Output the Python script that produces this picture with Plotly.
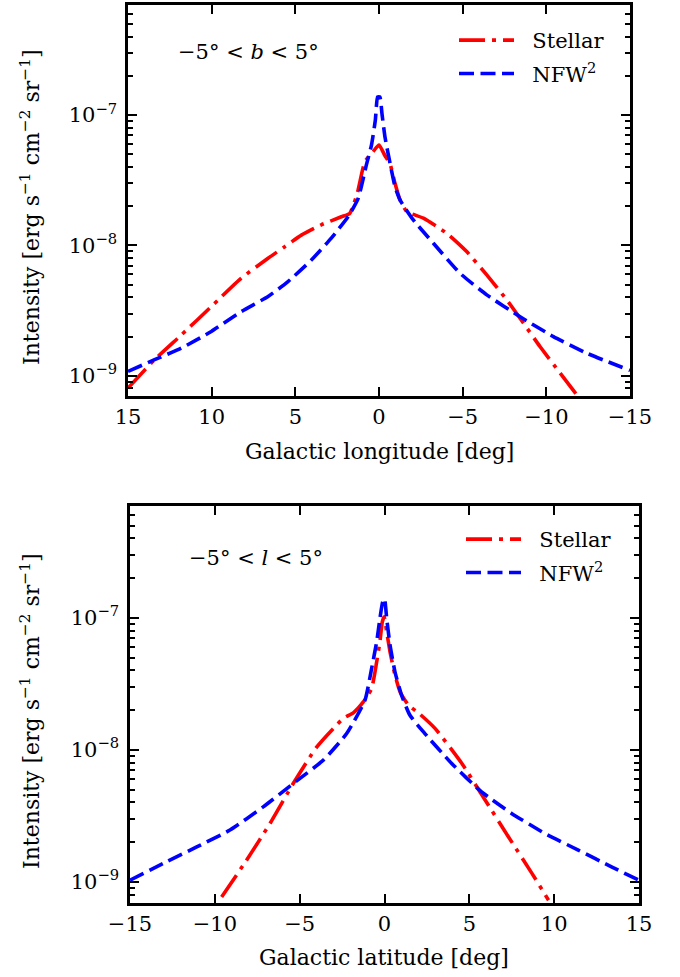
import plotly.graph_objects as go

# ---------------- data ----------------
# Top panel: profile along Galactic longitude (-5 < b < 5)
lon_stellar = [15, 13.41, 11.81, 10.02, 8.23, 6.63, 5.63, 4.64, 3.45, 2.25, 1.75, 1.3,
               0.85, 0.35, 0.0, -0.35, -0.65, -0.95, -1.26, -1.66, -2.65, -4.05,
               -5.24, -6.44, -7.64, -8.63, -9.63, -10.82, -11.9]
I_stellar_lon = [8.05e-10, 1.33e-9, 2.06e-9, 3.40e-9, 5.61e-9, 7.98e-9, 9.79e-9,
                 1.20e-8, 1.44e-8, 1.66e-8, 1.76e-8, 2.51e-8, 4.37e-8, 5.25e-8,
                 5.89e-8, 4.90e-8, 4.27e-8, 3.02e-8, 2.23e-8, 1.82e-8, 1.62e-8,
                 1.24e-8, 8.97e-9, 5.94e-9, 3.82e-9, 2.54e-9, 1.67e-9, 1.05e-9, 6.92e-10]

lon_nfw = [15, 13.41, 11.81, 10.02, 8.23, 6.63, 5.44, 4.04, 2.85, 1.85, 1.25, 0.75,
           0.45, 0.22, 0.08, -0.05, -0.18, -0.36, -0.66, -0.96, -1.26, -2.05, -3.25,
           -4.84, -6.44, -8.43, -10.42, -12.42, -15]
I_nfw_lon = [1.08e-9, 1.33e-9, 1.63e-9, 2.19e-9, 3.11e-9, 4.06e-9, 5.28e-9, 7.74e-9,
             1.14e-8, 1.66e-8, 2.29e-8, 4.17e-8, 5.89e-8, 9.12e-8, 1.38e-7, 1.38e-7,
             1.02e-7, 6.76e-8, 4.27e-8, 2.82e-8, 2.23e-8, 1.57e-8, 1.04e-8, 6.12e-9,
             4.18e-9, 2.84e-9, 2.00e-9, 1.49e-9, 1.10e-9]

# Bottom panel: profile along Galactic latitude (-5 < l < 5)
lat_stellar = [-9.6, -8.13, -6.75, -5.38, -4.0, -2.43, -1.84, -1.25, -0.76, -0.46,
               -0.27, -0.13, -0.02, 0.13, 0.33, 0.62, 0.92, 1.42, 2.1, 2.99, 4.56,
               5.94, 7.31, 8.69, 9.67]
I_stellar_lat = [7.69e-10, 1.46e-9, 2.77e-9, 5.56e-9, 1.05e-8, 1.73e-8, 1.91e-8,
                 2.31e-8, 2.92e-8, 4.65e-8, 6.61e-8, 9.33e-8, 1.02e-7, 7.83e-8,
                 5.50e-8, 3.68e-8, 2.75e-8, 2.18e-8, 1.86e-8, 1.45e-8, 7.89e-9,
                 4.16e-9, 2.19e-9, 1.16e-9, 7.26e-10]

lat_nfw = [-15, -13.04, -11.07, -9.11, -7.15, -5.38, -3.61, -2.23, -1.15, -0.76,
           -0.46, -0.27, -0.11, 0.0, 0.13, 0.33, 0.62, 1.01, 1.5, 2.38, 3.96, 5.72,
           7.49, 9.45, 11.42, 13.38, 15]
I_nfw_lat = [1.03e-9, 1.38e-9, 1.84e-9, 2.47e-9, 3.70e-9, 5.56e-9, 8.36e-9, 1.33e-8,
             2.38e-8, 4.14e-8, 6.61e-8, 9.89e-8, 1.32e-7, 1.40e-7, 9.89e-8, 6.17e-8,
             3.89e-8, 2.59e-8, 1.83e-8, 1.33e-8, 7.89e-9, 4.81e-9, 3.30e-9, 2.33e-9,
             1.74e-9, 1.30e-9, 1.03e-9]

x_ticks = [-15, -10, -5, 0, 5, 10, 15]
y_major = [1e-9, 1e-8, 1e-7]
y_major_text = ["10<sup>−9</sup>", "10<sup>−8</sup>", "10<sup>−7</sup>"]
series_names = ["\u00a0\u00a0Stellar", "\u00a0\u00a0NFW<sup>2</sup>"]

# ---------------- styling ----------------
W, H = 680, 977
FONT = "DejaVu Serif"
FS = 21
RED, BLUE = "#ff0000", "#0000ff"
RED_DASH = "26px,7px,4px,7px"
BLUE_DASH = "15px,6.5px"
LW = 3.6

y_minor = [m * 10.0 ** e for e in (-10, -9, -8, -7) for m in range(2, 10)]

fig = go.Figure()


def add_curve(x, y, name, color, dash, xa, ya, leg, grp):
    fig.add_trace(go.Scatter(x=x, y=y, mode="lines", name=name, legendgroup=grp,
                             line=dict(color=color, width=LW, dash=dash,
                                       shape="spline", smoothing=0.5),
                             xaxis=xa, yaxis=ya, legend=leg))


add_curve(lon_stellar, I_stellar_lon, series_names[0], RED, RED_DASH, "x", "y", "legend", "s1")
add_curve(lon_nfw, I_nfw_lon, series_names[1], BLUE, BLUE_DASH, "x", "y", "legend", "n1")
add_curve(lat_stellar, I_stellar_lat, series_names[0], RED, RED_DASH, "x2", "y2", "legend2", "s2")
add_curve(lat_nfw, I_nfw_lat, series_names[1], BLUE, BLUE_DASH, "x2", "y2", "legend2", "n2")


def px_x(p):
    return p / W


def px_y(p):
    return 1 - p / H


common_x = dict(showline=True, linecolor="black", linewidth=2.5, mirror="ticks",
                ticks="inside", ticklen=9, tickwidth=2, tickcolor="black",
                tickmode="array", tickvals=x_ticks, showgrid=False, zeroline=False,
                automargin=False, ticklabelstandoff=0,
                tickfont=dict(family=FONT, size=FS, color="black"))
common_y = dict(type="log", showline=True, linecolor="black", linewidth=2.5, mirror="ticks",
                ticks="inside", ticklen=9, tickwidth=2, tickcolor="black",
                tickmode="array", tickvals=y_major, ticktext=y_major_text,
                showgrid=False, zeroline=False, ticklabelstandoff=4, automargin=False,
                tickfont=dict(family=FONT, size=FS, color="black"),
                minor=dict(tickmode="array", tickvals=y_minor, ticks="inside",
                           ticklen=5, tickwidth=1.5, tickcolor="black", showgrid=False))

legend_common = dict(xanchor="left", yanchor="top", bgcolor="rgba(0,0,0,0)",
                     font=dict(family=FONT, size=FS, color="black"),
                     itemwidth=55, tracegroupgap=3, traceorder="grouped")

fig.update_layout(
    width=W, height=H,
    margin=dict(l=0, r=0, t=0, b=0, autoexpand=False),
    paper_bgcolor="white", plot_bgcolor="white",
    font=dict(family=FONT, color="black"),
    xaxis=dict(common_x, domain=[px_x(128), px_x(630)], range=[15, -15], anchor="y"),
    yaxis=dict(common_y, domain=[px_y(396), px_y(5)], range=[-9.155, -6.155], anchor="x"),
    xaxis2=dict(common_x, domain=[px_x(130), px_x(639)], range=[-15, 15], anchor="y2"),
    yaxis2=dict(common_y, domain=[px_y(903), px_y(506)], range=[-9.16, -6.152], anchor="x2"),
    legend=dict(legend_common, x=px_x(454), y=px_y(20)),
    legend2=dict(legend_common, x=px_x(461), y=px_y(519)),
    showlegend=True,
)

ann_common = dict(xref="paper", yref="paper", showarrow=False,
                  xanchor="center", yanchor="middle")
annotations = [
    dict(ann_common, text="−5° < <i>b</i> < 5°", x=px_x(249), y=px_y(52),
         font=dict(family=FONT, size=FS, color="black")),
    dict(ann_common, text="−5° < <i>l</i> < 5°", x=px_x(256), y=px_y(558),
         font=dict(family=FONT, size=FS, color="black")),
    dict(ann_common, text="Galactic longitude [deg]", x=px_x(379), y=px_y(452),
         font=dict(family=FONT, size=22, color="black")),
    dict(ann_common, text="Galactic latitude [deg]", x=px_x(384), y=px_y(957),
         font=dict(family=FONT, size=22, color="black")),
    dict(ann_common, text="Intensity [erg s<sup>−1</sup> cm<sup>−2</sup> sr<sup>−1</sup>]",
         x=px_x(30), y=px_y(207), textangle=-90,
         font=dict(family=FONT, size=22, color="black")),
    dict(ann_common, text="Intensity [erg s<sup>−1</sup> cm<sup>−2</sup> sr<sup>−1</sup>]",
         x=px_x(30), y=px_y(711), textangle=-90,
         font=dict(family=FONT, size=22, color="black")),
]
fig.update_layout(annotations=annotations)

# remove the browser's default 8px page margin so the figure sits at (0, 0)
fig.write_html("out.html", config={"displayModeBar": False},
               post_script="document.body.style.margin='0px';")
